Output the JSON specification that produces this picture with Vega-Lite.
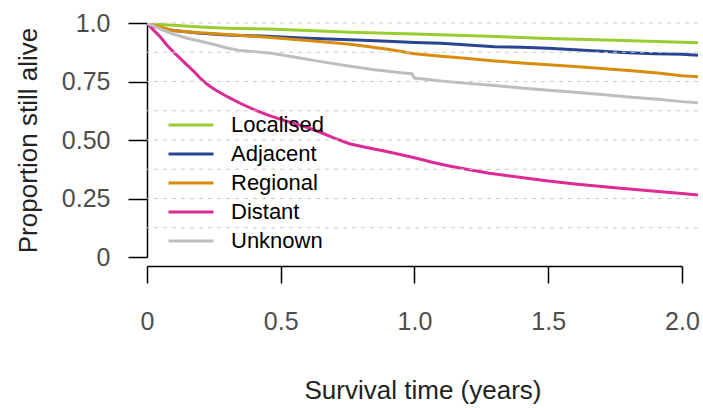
{
  "$schema": "https://vega.github.io/schema/vega-lite/v6.json",
  "autosize": "none",
  "padding": {"left": 147, "top": 23, "right": 5, "bottom": 151},
  "width": 551,
  "height": 234,
  "background": "white",
  "config": {
    "view": {"stroke": null},
    "font": "Liberation Sans",
    "axis": {
      "labelFont": "Liberation Sans",
      "titleFont": "Liberation Sans",
      "labelColor": "#4d4d4d",
      "titleColor": "#222222",
      "domainColor": "#000000",
      "tickColor": "#000000",
      "domainWidth": 1.5,
      "tickWidth": 1.5,
      "grid": false,
      "titleFontWeight": "normal",
      "labelFontSize": 25,
      "titleFontSize": 26
    },
    "legend": {
      "labelFont": "Liberation Sans",
      "labelFontSize": 22,
      "labelColor": "#000000"
    }
  },
  "resolve": {"axis": {"y": "independent", "x": "independent"}},
  "datasets": {
    "grid": [
      {"g": 0.125}, {"g": 0.25}, {"g": 0.375}, {"g": 0.5},
      {"g": 0.625}, {"g": 0.75}, {"g": 0.875}, {"g": 1.0}
    ],
    "curves": [
      {"group": "Localised", "t": 0, "s": 1.0},
      {"group": "Localised", "t": 0.05, "s": 0.994},
      {"group": "Localised", "t": 0.1, "s": 0.99},
      {"group": "Localised", "t": 0.2, "s": 0.983},
      {"group": "Localised", "t": 0.3, "s": 0.978},
      {"group": "Localised", "t": 0.45, "s": 0.974},
      {"group": "Localised", "t": 0.6, "s": 0.968},
      {"group": "Localised", "t": 0.76, "s": 0.96},
      {"group": "Localised", "t": 1.0, "s": 0.953},
      {"group": "Localised", "t": 1.25, "s": 0.944},
      {"group": "Localised", "t": 1.5, "s": 0.934},
      {"group": "Localised", "t": 1.75, "s": 0.926},
      {"group": "Localised", "t": 2.0, "s": 0.918},
      {"group": "Localised", "t": 2.06, "s": 0.916},

      {"group": "Adjacent", "t": 0, "s": 1.0},
      {"group": "Adjacent", "t": 0.03, "s": 0.985},
      {"group": "Adjacent", "t": 0.06, "s": 0.975},
      {"group": "Adjacent", "t": 0.1, "s": 0.968},
      {"group": "Adjacent", "t": 0.2, "s": 0.956},
      {"group": "Adjacent", "t": 0.3, "s": 0.949},
      {"group": "Adjacent", "t": 0.45, "s": 0.943},
      {"group": "Adjacent", "t": 0.6, "s": 0.935},
      {"group": "Adjacent", "t": 0.76, "s": 0.928},
      {"group": "Adjacent", "t": 0.9, "s": 0.922},
      {"group": "Adjacent", "t": 1.0, "s": 0.917},
      {"group": "Adjacent", "t": 1.1, "s": 0.913},
      {"group": "Adjacent", "t": 1.2, "s": 0.906},
      {"group": "Adjacent", "t": 1.3, "s": 0.899},
      {"group": "Adjacent", "t": 1.4, "s": 0.896},
      {"group": "Adjacent", "t": 1.5, "s": 0.892},
      {"group": "Adjacent", "t": 1.6, "s": 0.886},
      {"group": "Adjacent", "t": 1.7, "s": 0.879},
      {"group": "Adjacent", "t": 1.8, "s": 0.873},
      {"group": "Adjacent", "t": 1.9, "s": 0.869},
      {"group": "Adjacent", "t": 2.0, "s": 0.866},
      {"group": "Adjacent", "t": 2.06, "s": 0.862},

      {"group": "Regional", "t": 0, "s": 1.0},
      {"group": "Regional", "t": 0.03, "s": 0.99},
      {"group": "Regional", "t": 0.06, "s": 0.98},
      {"group": "Regional", "t": 0.1, "s": 0.967},
      {"group": "Regional", "t": 0.2, "s": 0.958},
      {"group": "Regional", "t": 0.3, "s": 0.951},
      {"group": "Regional", "t": 0.45, "s": 0.939},
      {"group": "Regional", "t": 0.6, "s": 0.925},
      {"group": "Regional", "t": 0.76, "s": 0.909},
      {"group": "Regional", "t": 0.9, "s": 0.888},
      {"group": "Regional", "t": 1.0, "s": 0.869},
      {"group": "Regional", "t": 1.1, "s": 0.858},
      {"group": "Regional", "t": 1.2, "s": 0.848},
      {"group": "Regional", "t": 1.3, "s": 0.838},
      {"group": "Regional", "t": 1.4, "s": 0.829},
      {"group": "Regional", "t": 1.5, "s": 0.822},
      {"group": "Regional", "t": 1.6, "s": 0.814},
      {"group": "Regional", "t": 1.7, "s": 0.806},
      {"group": "Regional", "t": 1.8, "s": 0.797},
      {"group": "Regional", "t": 1.9, "s": 0.787},
      {"group": "Regional", "t": 2.0, "s": 0.775},
      {"group": "Regional", "t": 2.06, "s": 0.77},

      {"group": "Distant", "t": 0, "s": 1.0},
      {"group": "Distant", "t": 0.02, "s": 0.975},
      {"group": "Distant", "t": 0.05, "s": 0.94},
      {"group": "Distant", "t": 0.075, "s": 0.905},
      {"group": "Distant", "t": 0.1, "s": 0.875},
      {"group": "Distant", "t": 0.125, "s": 0.848},
      {"group": "Distant", "t": 0.15, "s": 0.82},
      {"group": "Distant", "t": 0.175, "s": 0.793},
      {"group": "Distant", "t": 0.2, "s": 0.763},
      {"group": "Distant", "t": 0.225, "s": 0.738},
      {"group": "Distant", "t": 0.25, "s": 0.718},
      {"group": "Distant", "t": 0.3, "s": 0.685},
      {"group": "Distant", "t": 0.35, "s": 0.656},
      {"group": "Distant", "t": 0.4, "s": 0.63},
      {"group": "Distant", "t": 0.45, "s": 0.607},
      {"group": "Distant", "t": 0.5, "s": 0.588},
      {"group": "Distant", "t": 0.55, "s": 0.571},
      {"group": "Distant", "t": 0.6, "s": 0.553},
      {"group": "Distant", "t": 0.65, "s": 0.532},
      {"group": "Distant", "t": 0.7, "s": 0.508},
      {"group": "Distant", "t": 0.76, "s": 0.483},
      {"group": "Distant", "t": 0.83, "s": 0.466},
      {"group": "Distant", "t": 0.9, "s": 0.45},
      {"group": "Distant", "t": 0.95, "s": 0.437},
      {"group": "Distant", "t": 1.0, "s": 0.424},
      {"group": "Distant", "t": 1.07, "s": 0.404},
      {"group": "Distant", "t": 1.13, "s": 0.389},
      {"group": "Distant", "t": 1.2, "s": 0.374},
      {"group": "Distant", "t": 1.28, "s": 0.358},
      {"group": "Distant", "t": 1.4, "s": 0.34},
      {"group": "Distant", "t": 1.5, "s": 0.325},
      {"group": "Distant", "t": 1.6, "s": 0.312},
      {"group": "Distant", "t": 1.75, "s": 0.296},
      {"group": "Distant", "t": 1.9, "s": 0.281},
      {"group": "Distant", "t": 2.0, "s": 0.271},
      {"group": "Distant", "t": 2.06, "s": 0.265},

      {"group": "Unknown", "t": 0, "s": 1.0},
      {"group": "Unknown", "t": 0.03, "s": 0.985},
      {"group": "Unknown", "t": 0.06, "s": 0.97},
      {"group": "Unknown", "t": 0.1, "s": 0.952},
      {"group": "Unknown", "t": 0.15, "s": 0.935},
      {"group": "Unknown", "t": 0.2, "s": 0.922},
      {"group": "Unknown", "t": 0.25, "s": 0.908},
      {"group": "Unknown", "t": 0.3, "s": 0.893},
      {"group": "Unknown", "t": 0.35, "s": 0.882},
      {"group": "Unknown", "t": 0.46, "s": 0.872},
      {"group": "Unknown", "t": 0.55, "s": 0.855},
      {"group": "Unknown", "t": 0.65, "s": 0.835},
      {"group": "Unknown", "t": 0.76, "s": 0.815},
      {"group": "Unknown", "t": 0.85, "s": 0.8},
      {"group": "Unknown", "t": 0.95, "s": 0.787},
      {"group": "Unknown", "t": 0.99, "s": 0.783},
      {"group": "Unknown", "t": 1.0, "s": 0.765},
      {"group": "Unknown", "t": 1.1, "s": 0.752},
      {"group": "Unknown", "t": 1.2, "s": 0.742},
      {"group": "Unknown", "t": 1.3, "s": 0.733},
      {"group": "Unknown", "t": 1.4, "s": 0.722},
      {"group": "Unknown", "t": 1.5, "s": 0.713},
      {"group": "Unknown", "t": 1.6, "s": 0.704},
      {"group": "Unknown", "t": 1.7, "s": 0.694},
      {"group": "Unknown", "t": 1.8, "s": 0.684},
      {"group": "Unknown", "t": 1.9, "s": 0.675},
      {"group": "Unknown", "t": 2.0, "s": 0.664},
      {"group": "Unknown", "t": 2.06, "s": 0.659}
    ]
  },
  "layer": [
    {
      "data": {"name": "curves"},
      "mark": {"type": "line", "strokeWidth": 3, "clip": true},
      "encoding": {
        "x": {
          "field": "t", "type": "quantitative",
          "scale": {"domain": [0, 2.06], "nice": false, "zero": false},
          "axis": {
            "title": "Survival time (years)",
            "values": [0, 0.5, 1, 1.5, 2],
            "labelExpr": "datum.value == 0 ? '0' : format(datum.value, '.1f')",
            "offset": 9,
            "tickSize": 17,
            "labelPadding": 26,
            "titlePadding": 43,
            "domainDash": [535, 1000],
            "labelFlush": false
          }
        },
        "y": {
          "field": "s", "type": "quantitative",
          "scale": {"domain": [0, 1], "nice": false},
          "axis": {
            "title": "Proportion still alive",
            "values": [0, 0.25, 0.5, 0.75, 1],
            "labelExpr": "datum.value == 0 ? '0' : datum.value == 1 ? '1.0' : format(datum.value, '.2f')",
            "tickSize": 19,
            "labelPadding": 18,
            "titlePadding": 20,
            "labelFlush": false
          }
        },
        "color": {
          "field": "group", "type": "nominal",
          "scale": {
            "domain": ["Localised", "Adjacent", "Regional", "Distant", "Unknown"],
            "range": ["#9acd32", "#2a4494", "#d98c0c", "#dc2a96", "#bebebe"]
          },
          "legend": {
            "title": null,
            "orient": "none",
            "legendX": 20,
            "legendY": 88,
            "padding": 0,
            "symbolType": "stroke",
            "symbolSize": 2025,
            "symbolStrokeWidth": 3,
            "labelOffset": 16,
            "clipHeight": 28.2,
            "rowPadding": 0
          }
        }
      }
    },
    {
      "data": {"name": "grid"},
      "mark": {"type": "rule", "color": "#cccccc", "strokeWidth": 1.2, "strokeDash": [4, 5]},
      "encoding": {
        "y": {"field": "g", "type": "quantitative", "axis": null}
      }
    }
  ]
}
